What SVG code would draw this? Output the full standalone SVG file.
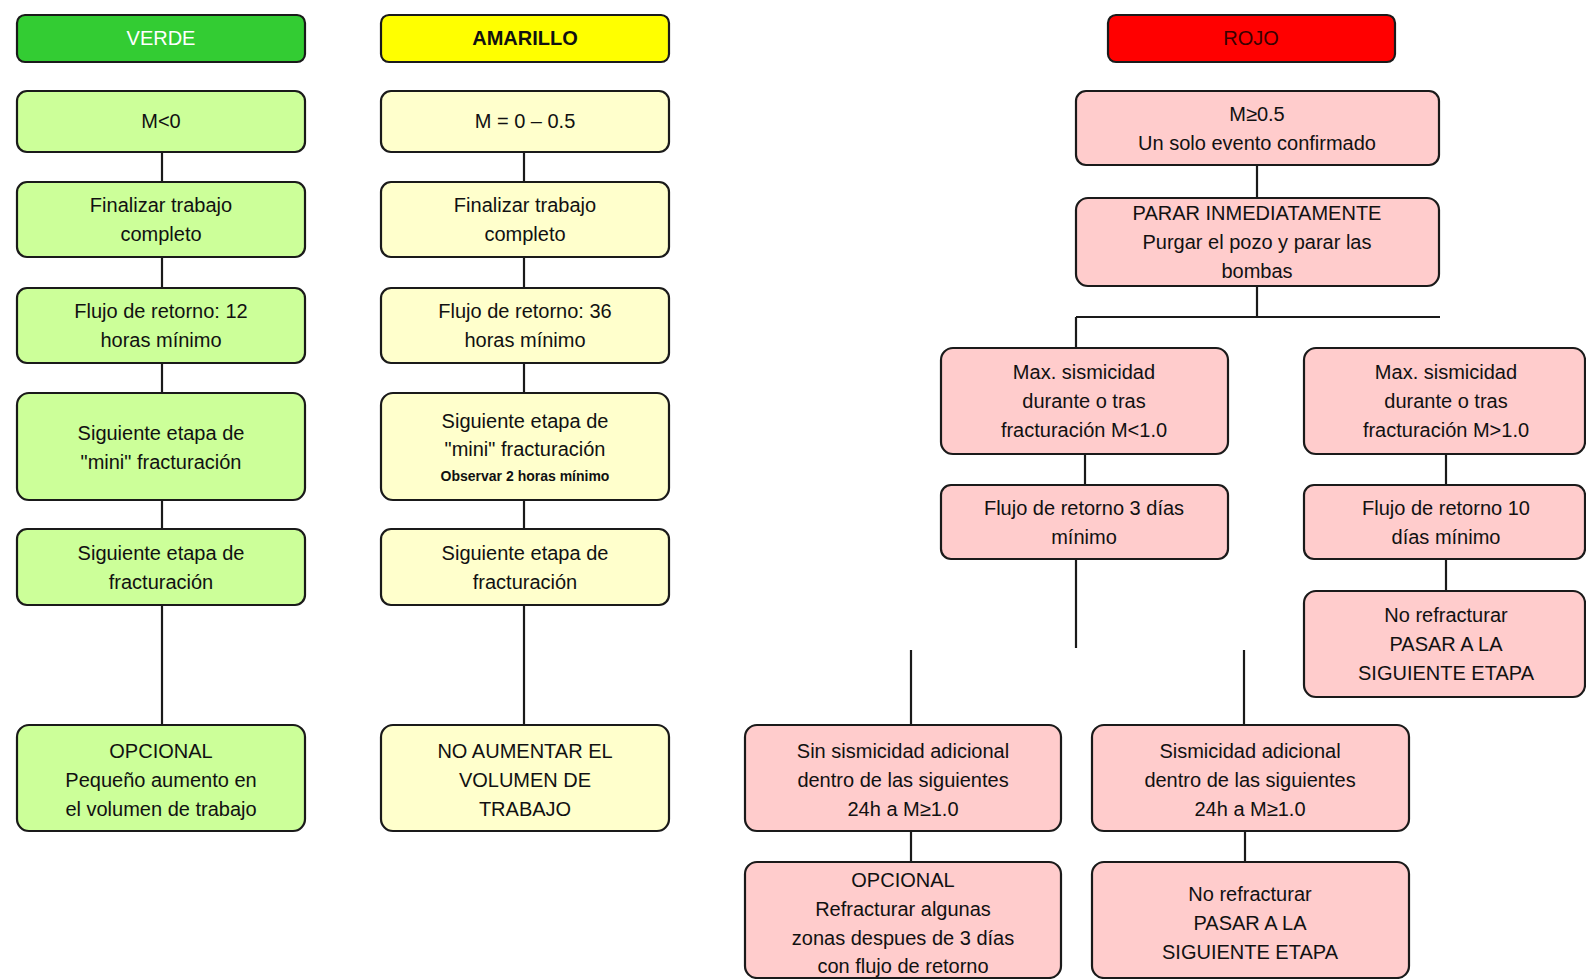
<svg xmlns="http://www.w3.org/2000/svg" width="1586" height="979" viewBox="0 0 1586 979">
<style>
.b{stroke:#1a1a1a;stroke-width:2.2}
.g{fill:#ccff99}
.y{fill:#ffffcc}
.r{fill:#ffcccc}
text{font-family:"Liberation Sans",Arial,sans-serif;font-size:20px;text-anchor:middle;fill:#111}
.s{font-size:14px;font-weight:bold}
.c line{stroke:#1a1a1a;stroke-width:2.2}
</style>
<rect width="1586" height="979" fill="#ffffff"/>
<g class="c" id="connectors">
<line x1="162" y1="152" x2="162" y2="182"/>
<line x1="162" y1="257" x2="162" y2="288"/>
<line x1="162" y1="363" x2="162" y2="393"/>
<line x1="162" y1="500" x2="162" y2="529"/>
<line x1="162" y1="605" x2="162" y2="725"/>
<line x1="524" y1="152" x2="524" y2="182"/>
<line x1="524" y1="257" x2="524" y2="288"/>
<line x1="524" y1="363" x2="524" y2="393"/>
<line x1="524" y1="500" x2="524" y2="529"/>
<line x1="524" y1="605" x2="524" y2="725"/>
<line x1="1257" y1="165" x2="1257" y2="198"/>
<line x1="1257" y1="286" x2="1257" y2="317"/>
<line x1="1076" y1="317" x2="1440" y2="317"/>
<line x1="1076" y1="317" x2="1076" y2="348"/>
<line x1="1085" y1="454" x2="1085" y2="485"/>
<line x1="1446" y1="454" x2="1446" y2="485"/>
<line x1="1446" y1="559" x2="1446" y2="591"/>
<line x1="1076" y1="559" x2="1076" y2="648"/>
<line x1="1244" y1="650" x2="1244" y2="725"/>
<line x1="911" y1="650" x2="911" y2="725"/>
<line x1="911" y1="831" x2="911" y2="862"/>
<line x1="1245" y1="831" x2="1245" y2="862"/>
</g>
<g id="verde">
<rect class="b" x="17" y="15" width="288" height="47" rx="8" fill="#33cc33"/>
<text x="161" y="45" fill="#ffffff" style="fill:#ffffff">VERDE</text>
</g>
<g id="amarillo">
<rect class="b" x="381" y="15" width="288" height="47" rx="8" fill="#ffff00"/>
<text x="525" y="45" font-weight="bold">AMARILLO</text>
</g>
<g id="rojo">
<rect class="b" x="1108" y="15" width="287" height="47" rx="8" fill="#ff0000"/>
<text x="1251" y="45" style="fill:#3a0000">ROJO</text>
</g>
<g id="g1"><rect class="b g" x="17" y="91" width="288" height="61" rx="10"/><text x="161" y="128">M&lt;0</text></g>
<g id="g2"><rect class="b g" x="17" y="182" width="288" height="75" rx="10"/><text x="161" y="212">Finalizar trabajo</text><text x="161" y="241">completo</text></g>
<g id="g3"><rect class="b g" x="17" y="288" width="288" height="75" rx="10"/><text x="161" y="318">Flujo de retorno: 12</text><text x="161" y="347">horas mínimo</text></g>
<g id="g4"><rect class="b g" x="17" y="393" width="288" height="107" rx="12"/><text x="161" y="440">Siguiente etapa de</text><text x="161" y="469">"mini" fracturación</text></g>
<g id="g5"><rect class="b g" x="17" y="529" width="288" height="76" rx="10"/><text x="161" y="560">Siguiente etapa de</text><text x="161" y="589">fracturación</text></g>
<g id="g6"><rect class="b g" x="17" y="725" width="288" height="106" rx="12"/><text x="161" y="758">OPCIONAL</text><text x="161" y="787">Pequeño aumento en</text><text x="161" y="816">el volumen de trabajo</text></g>
<g id="y1"><rect class="b y" x="381" y="91" width="288" height="61" rx="10"/><text x="525" y="128">M = 0 – 0.5</text></g>
<g id="y2"><rect class="b y" x="381" y="182" width="288" height="75" rx="10"/><text x="525" y="212">Finalizar trabajo</text><text x="525" y="241">completo</text></g>
<g id="y3"><rect class="b y" x="381" y="288" width="288" height="75" rx="10"/><text x="525" y="318">Flujo de retorno: 36</text><text x="525" y="347">horas mínimo</text></g>
<g id="y4"><rect class="b y" x="381" y="393" width="288" height="107" rx="12"/><text x="525" y="428">Siguiente etapa de</text><text x="525" y="456">"mini" fracturación</text><text class="s" x="525" y="481">Observar 2 horas mínimo</text></g>
<g id="y5"><rect class="b y" x="381" y="529" width="288" height="76" rx="10"/><text x="525" y="560">Siguiente etapa de</text><text x="525" y="589">fracturación</text></g>
<g id="y6"><rect class="b y" x="381" y="725" width="288" height="106" rx="12"/><text x="525" y="758">NO AUMENTAR EL</text><text x="525" y="787">VOLUMEN DE</text><text x="525" y="816">TRABAJO</text></g>
<g id="r1"><rect class="b r" x="1076" y="91" width="363" height="74" rx="10"/><text x="1257" y="121">M≥0.5</text><text x="1257" y="150">Un solo evento confirmado</text></g>
<g id="r2"><rect class="b r" x="1076" y="198" width="363" height="88" rx="12"/><text x="1257" y="220">PARAR INMEDIATAMENTE</text><text x="1257" y="249">Purgar el pozo y parar las</text><text x="1257" y="278">bombas</text></g>
<g id="r3"><rect class="b r" x="941" y="348" width="287" height="106" rx="12"/><text x="1084" y="379">Max. sismicidad</text><text x="1084" y="408">durante o tras</text><text x="1084" y="437">fracturación M&lt;1.0</text></g>
<g id="r4"><rect class="b r" x="1304" y="348" width="281" height="106" rx="12"/><text x="1446" y="379">Max. sismicidad</text><text x="1446" y="408">durante o tras</text><text x="1446" y="437">fracturación M&gt;1.0</text></g>
<g id="r5"><rect class="b r" x="941" y="485" width="287" height="74" rx="10"/><text x="1084" y="515">Flujo de retorno 3 días</text><text x="1084" y="544">mínimo</text></g>
<g id="r6"><rect class="b r" x="1304" y="485" width="281" height="74" rx="10"/><text x="1446" y="515">Flujo de retorno 10</text><text x="1446" y="544">días mínimo</text></g>
<g id="r7"><rect class="b r" x="1304" y="591" width="281" height="106" rx="12"/><text x="1446" y="622">No refracturar</text><text x="1446" y="651">PASAR A LA</text><text x="1446" y="680">SIGUIENTE ETAPA</text></g>
<g id="r8"><rect class="b r" x="745" y="725" width="316" height="106" rx="12"/><text x="903" y="758">Sin sismicidad adicional</text><text x="903" y="787">dentro de las siguientes</text><text x="903" y="816">24h a M≥1.0</text></g>
<g id="r9"><rect class="b r" x="1092" y="725" width="317" height="106" rx="12"/><text x="1250" y="758">Sismicidad adicional</text><text x="1250" y="787">dentro de las siguientes</text><text x="1250" y="816">24h a M≥1.0</text></g>
<g id="r10"><rect class="b r" x="745" y="862" width="316" height="116" rx="12"/><text x="903" y="887">OPCIONAL</text><text x="903" y="916">Refracturar algunas</text><text x="903" y="945">zonas despues de 3 días</text><text x="903" y="973">con flujo de retorno</text></g>
<g id="r11"><rect class="b r" x="1092" y="862" width="317" height="116" rx="12"/><text x="1250" y="901">No refracturar</text><text x="1250" y="930">PASAR A LA</text><text x="1250" y="959">SIGUIENTE ETAPA</text></g>
</svg>
